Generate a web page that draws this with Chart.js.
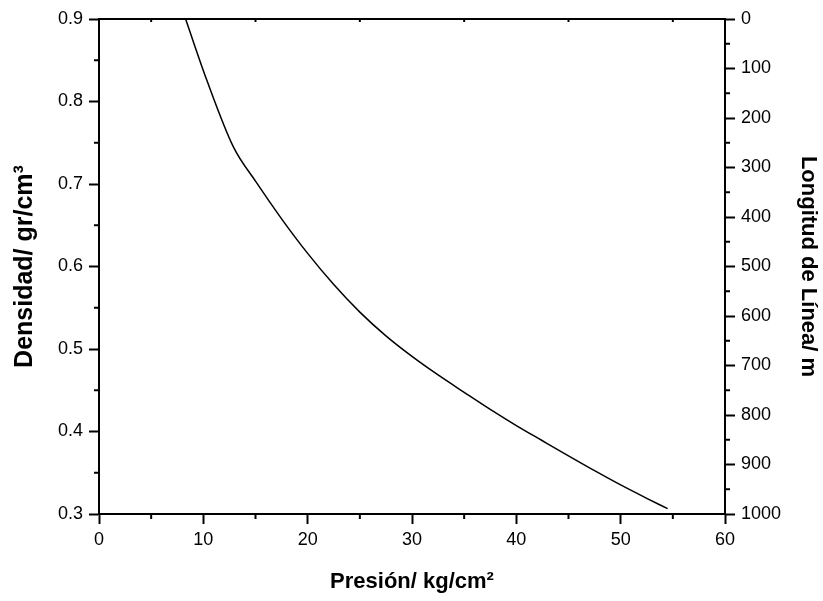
<!DOCTYPE html>
<html>
<head>
<meta charset="utf-8">
<script src="https://cdn.jsdelivr.net/npm/chart.js@4/dist/chart.umd.min.js"></script>
<style>
  html, body { margin: 0; padding: 0; background: #fff; }
  #wrap { width: 823px; height: 601px; }
</style>
</head>
<body>
<div id="wrap"><canvas id="chart" width="823" height="601"></canvas></div>
<script>
// values
const pressure = [8.3, 10.33, 12.88, 15, 17.5, 20, 22.5, 25, 27.5, 30, 32.5, 35, 37.5, 40, 42.5, 45, 47.5, 50, 52.5, 54.5];
const density = [0.9, 0.826, 0.745, 0.7034, 0.6578, 0.6159, 0.5781, 0.5447, 0.5159, 0.4910, 0.4685, 0.4475, 0.4268, 0.4072, 0.3888, 0.3705, 0.3525, 0.3352, 0.3190, 0.3065];

const xTicks = [0, 10, 20, 30, 40, 50, 60];
const yTicks = [0.3, 0.4, 0.5, 0.6, 0.7, 0.8, 0.9];
const lengthTicks = [0, 100, 200, 300, 400, 500, 600, 700, 800, 900, 1000];

const tickFont = { family: "Liberation Sans, Arial, sans-serif", size: 18 };
const titleFont = { family: "Liberation Sans, Arial, sans-serif", size: 22, weight: "bold" };
const leftTitleFont = { family: "Liberation Sans, Arial, sans-serif", size: 25, weight: "bold" };

// minor ticks + top frame line
const frame = {
  id: "frame",
  afterDraw(chart) {
    const ctx = chart.ctx;
    const a = chart.chartArea;
    const x = chart.scales.x, y = chart.scales.y, y2 = chart.scales.y2;
    ctx.save();
    ctx.strokeStyle = "#000";
    ctx.lineWidth = 2;
    ctx.beginPath();
    ctx.moveTo(a.left - 1, a.top);
    ctx.lineTo(a.right + 1, a.top);
    for (let v = 5; v < 60; v += 10) {
      const px = x.getPixelForValue(v);
      ctx.moveTo(px, a.bottom);
      ctx.lineTo(px, a.bottom + 5);
      ctx.moveTo(px, a.top);
      ctx.lineTo(px, a.top + 3);
    }
    for (let v = 0.35; v < 0.9; v += 0.1) {
      const py = y.getPixelForValue(v);
      ctx.moveTo(a.left, py);
      ctx.lineTo(a.left - 5, py);
    }
    for (let v = 50; v < 1000; v += 100) {
      const py = y2.getPixelForValue(v);
      ctx.moveTo(a.right, py);
      ctx.lineTo(a.right + 5, py);
    }
    ctx.stroke();
    ctx.restore();
  }
};

const points = pressure.map((p, i) => ({ x: p, y: density[i] }));

new Chart(document.getElementById("chart"), {
  type: "line",
  data: {
    datasets: [{
      data: points,
      borderColor: "#000",
      borderWidth: 1.5,
      pointRadius: 0,
      cubicInterpolationMode: "monotone",
      fill: false
    }]
  },
  options: {
    responsive: false,
    animation: false,
    layout: { padding: { top: 19, left: 0, right: 0, bottom: 0 } },
    plugins: { legend: { display: false }, tooltip: { enabled: false } },
    scales: {
      x: {
        type: "linear",
        min: 0, max: 60,
        afterBuildTicks: (s) => { s.ticks = xTicks.map(v => ({ value: v })); },
        afterFit: (s) => { s.height = 87; },
        grid: { drawOnChartArea: false, tickLength: 10, color: "#000", tickWidth: 2 },
        border: { color: "#000", width: 2 },
        ticks: { color: "#000", font: tickFont, padding: 5, maxRotation: 0 },
        title: { display: true, text: "Presión/ kg/cm²", color: "#000", font: titleFont, padding: { top: 0, bottom: 6 } }
      },
      y: {
        type: "linear",
        position: "left",
        min: 0.3, max: 0.9,
        afterBuildTicks: (s) => { s.ticks = yTicks.map(v => ({ value: v })); },
        afterFit: (s) => { s.width = 99; },
        grid: { drawOnChartArea: false, tickLength: 10, color: "#000", tickWidth: 2 },
        border: { color: "#000", width: 2 },
        ticks: { color: "#000", font: tickFont, padding: 6, callback: (v) => v.toFixed(1) },
        title: { display: true, text: "Densidad/ gr/cm³", color: "#000", font: leftTitleFont, padding: { top: 10, bottom: 0 } }
      },
      y2: {
        type: "linear",
        position: "right",
        reverse: true,
        min: 0, max: 1000,
        afterBuildTicks: (s) => { s.ticks = lengthTicks.map(v => ({ value: v })); },
        afterFit: (s) => { s.width = 98; },
        grid: { drawOnChartArea: false, tickLength: 10, color: "#000", tickWidth: 2 },
        border: { color: "#000", width: 2 },
        ticks: { color: "#000", font: tickFont, padding: 6, callback: (v) => String(v) },
        title: { display: true, text: "Longitud de Línea/ m", color: "#000", font: titleFont, padding: { top: 2, bottom: 0 } }
      }
    }
  },
  plugins: [frame]
});
</script>
</body>
</html>
